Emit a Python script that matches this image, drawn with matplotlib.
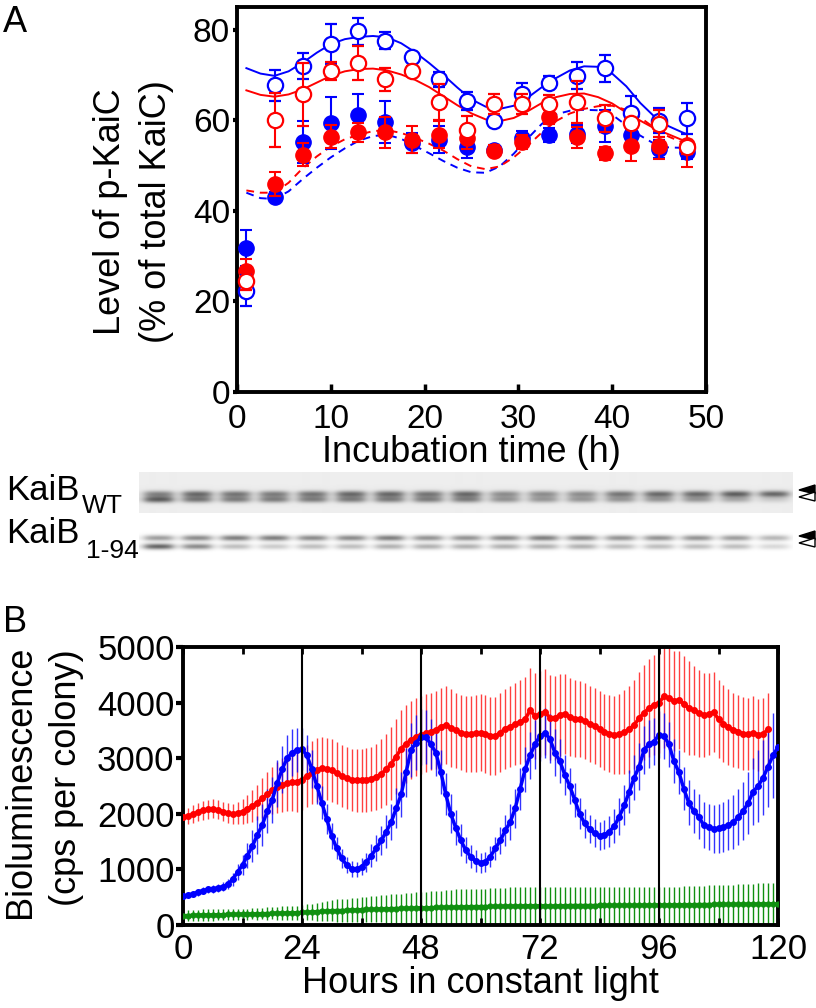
import numpy as np
import matplotlib
matplotlib.use("Agg")
import matplotlib.pyplot as plt
from matplotlib.patches import Polygon

plt.rcParams['font.family'] = ['Liberation Sans', 'DejaVu Sans']

# ---------------- panel A data (p-KaiC, %) ----------------
a_time = [1.0, 4.1, 7.0, 10.0, 12.9, 15.8, 18.7, 21.5, 24.5, 27.4, 30.4, 33.3, 36.2, 39.2, 42.0, 45.0, 48.0]

wt_open = [22.4, 67.7, 71.9, 76.8, 79.6, 77.6, 73.9, 69.0, 64.2, 59.8, 65.7, 68.3, 69.8, 71.5, 61.6, 59.9, 60.4]
wt_open_err = [3.4, 3.4, 2.9, 4.4, 3.0, 1.8, 1.0, 1.7, 2.0, 1.0, 2.6, 1.5, 3.0, 3.0, 3.8, 2.8, 3.5]
wt_fill = [31.8, 43.1, 55.2, 59.4, 61.1, 59.6, 55.0, 55.7, 54.2, 53.5, 56.1, 56.8, 57.0, 58.7, 56.8, 53.7, 53.0]
wt_fill_err = [4.0, 1.0, 4.6, 5.7, 4.6, 4.7, 2.2, 3.0, 2.6, 1.0, 1.5, 1.5, 2.0, 3.5, 2.0, 2.0, 1.5]

m94_open = [24.6, 60.1, 65.7, 70.9, 72.6, 69.0, 70.9, 64.0, 57.9, 63.5, 63.5, 63.5, 64.1, 60.4, 59.4, 59.2, 54.1]
m94_open_err = [2.0, 6.0, 7.0, 2.0, 3.7, 2.6, 1.0, 4.0, 3.0, 2.2, 2.2, 2.0, 4.6, 3.0, 1.0, 3.0, 1.5]
m94_fill = [26.8, 45.9, 52.4, 56.4, 57.3, 57.3, 55.7, 56.8, 56.1, 53.3, 55.2, 60.7, 56.2, 52.7, 54.4, 54.4, 54.6]
m94_fill_err = [2.5, 2.6, 2.6, 2.6, 2.0, 3.5, 3.0, 3.0, 2.5, 1.3, 1.5, 1.5, 2.4, 1.5, 3.5, 3.0, 5.0]

fit_time = [1.0, 2.5, 4, 5.5, 7, 8.5, 10, 11.5, 13, 14.5, 16, 17.5, 19, 20.5, 22, 23.5, 25,
            26.5, 28, 29.5, 31, 32.5, 34, 35.5, 37, 38.5, 40, 41.5, 43, 44.5, 46, 47.5, 48.0]
wt_solid = [71.5, 70.3, 69.8, 70.8, 72.7, 74.9, 76.8, 77.9, 78.4, 78.6, 78.3, 77.0, 75.0, 72.6, 70.0, 67.2, 64.6,
            63.0, 62.5, 63.2, 65.0, 67.3, 69.3, 71.0, 71.9, 71.8, 70.3, 67.5, 63.8, 60.8, 58.7, 57.3, 56.9]
m94_solid = [66.6, 65.6, 65.2, 65.7, 66.8, 68.3, 69.8, 70.8, 71.3, 71.4, 71.0, 70.1, 68.9, 67.3, 65.3, 63.3, 61.5,
             60.2, 59.8, 60.5, 62.0, 63.8, 65.1, 65.8, 65.9, 65.1, 63.7, 61.7, 59.9, 58.2, 56.9, 55.6, 55.2]
wt_dash = [44.0, 42.8, 42.6, 44.3, 47.0, 49.5, 51.8, 53.8, 55.5, 56.5, 56.8, 55.9, 54.3, 52.7, 51.0, 49.5, 48.5,
           48.4, 49.8, 52.6, 56.0, 59.2, 61.3, 62.1, 62.3, 62.2, 61.2, 58.9, 56.6, 54.8, 54.0, 53.9, 53.9]
m94_dash = [44.5, 44.0, 44.0, 46.2, 49.4, 52.0, 54.2, 55.8, 56.8, 57.6, 57.8, 57.2, 56.1, 54.8, 53.3, 51.4, 49.8,
            49.2, 49.8, 51.8, 54.4, 57.3, 59.8, 61.5, 62.5, 63.1, 63.2, 62.3, 60.6, 58.3, 56.4, 55.1, 54.8]

# ---------------- blot lane darkness (17 lanes) ----------------
wt_band_up = [0.40, 0.50, 0.45, 0.42, 0.45, 0.50, 0.50, 0.45, 0.50, 0.36, 0.36, 0.36, 0.45, 0.50, 0.50, 0.55, 0.52]
wt_band_lo = [0.55, 0.45, 0.42, 0.42, 0.42, 0.42, 0.42, 0.42, 0.42, 0.34, 0.32, 0.32, 0.32, 0.32, 0.32, 0.25, 0.12]
kb_band_up = [0.38, 0.45, 0.50, 0.50, 0.45, 0.45, 0.50, 0.42, 0.42, 0.45, 0.50, 0.45, 0.42, 0.42, 0.42, 0.38, 0.28]
kb_band_lo = [0.60, 0.45, 0.25, 0.20, 0.25, 0.25, 0.30, 0.30, 0.30, 0.30, 0.30, 0.30, 0.25, 0.25, 0.25, 0.25, 0.15]

# ---------------- panel B data (hourly) ----------------
hours_blue = list(range(0, 121))
blue = [520, 540, 560, 590, 620, 640, 650, 670, 690, 730,
        820, 950, 1080, 1250, 1420, 1620, 1800, 2050, 2250, 2550,
        2800, 3000, 3100, 3150, 3160, 3050, 2800, 2500, 2200, 1900,
        1600, 1380, 1200, 1080, 1010, 1000, 1050, 1130, 1250, 1380,
        1520, 1680, 1850, 2100, 2350, 2750, 3150, 3280, 3380, 3380,
        3250, 3100, 2750, 2350, 2000, 1750, 1530, 1350, 1230, 1150,
        1120, 1140, 1230, 1380, 1520, 1700, 1850, 2100, 2450, 2800,
        3050, 3250, 3400, 3450, 3350, 3100, 2950, 2700, 2500, 2250,
        2000, 1830, 1720, 1650, 1600, 1620, 1680, 1780, 1950, 2150,
        2400, 2650, 2850, 3150, 3250, 3300, 3420, 3400, 3250, 2950,
        2750, 2450, 2200, 2050, 1950, 1800, 1760, 1730, 1740, 1760,
        1800, 1850, 1940, 2050, 2200, 2400, 2500, 2650, 2850, 3050, 3200]
blue_err = [60, 60, 60, 60, 60, 60, 70, 70, 80, 90,
            110, 140, 180, 230, 290, 340, 380, 400, 420, 420,
            420, 420, 420, 400, 380, 360, 340, 320, 300, 270,
            240, 200, 170, 150, 140, 140, 150, 170, 200, 230,
            260, 290, 320, 360, 400, 440, 480, 500, 500, 480,
            450, 420, 400, 380, 350, 320, 280, 240, 210, 190,
            180, 180, 190, 210, 240, 280, 320, 350, 380, 400,
            420, 440, 450, 450, 440, 420, 390, 360, 330, 300,
            280, 260, 250, 250, 250, 260, 280, 300, 330, 360,
            380, 400, 420, 430, 430, 430, 420, 410, 400, 390,
            390, 390, 400, 400, 410, 420, 420, 430, 440, 450,
            460, 480, 500, 530, 560, 600, 640, 680, 720, 760, 800]

hours_red = list(range(0, 119))
red = [1950, 1960, 1990, 2030, 2060, 2080, 2090, 2070, 2040, 2010,
       2000, 2010, 2040, 2090, 2140, 2200, 2280, 2350, 2420, 2480,
       2520, 2550, 2570, 2580, 2610, 2680, 2740, 2790, 2820, 2810,
       2780, 2730, 2680, 2640, 2610, 2600, 2600, 2610, 2630, 2660,
       2720, 2800, 2900, 3030, 3170, 3260, 3330, 3380, 3420, 3450,
       3480, 3510, 3570, 3590, 3550, 3500, 3460, 3440, 3440, 3450,
       3460, 3440, 3400, 3400, 3460, 3530, 3570, 3610, 3650, 3700,
       3860, 3760, 3790, 3830, 3730, 3720, 3780, 3800, 3740, 3710,
       3700, 3670, 3620, 3580, 3530, 3470, 3440, 3420, 3430, 3470,
       3520, 3600, 3720, 3820, 3900, 3960, 4000, 4110, 4080, 4030,
       4050, 3980, 3900, 3860, 3810, 3780, 3790, 3830, 3700, 3620,
       3560, 3510, 3480, 3440, 3430, 3460, 3420, 3440, 3520]
red_err = [150, 150, 160, 160, 170, 170, 170, 170, 170, 180,
           180, 200, 220, 250, 280, 320, 360, 400, 430, 460,
           480, 500, 520, 540, 550, 560, 570, 570, 570, 560,
           560, 560, 560, 560, 560, 560, 560, 570, 580, 600,
           620, 640, 660, 680, 700, 700, 700, 700, 700, 700,
           700, 700, 700, 700, 700, 680, 680, 680, 680, 690,
           690, 700, 700, 700, 710, 720, 730, 740, 750, 760,
           760, 770, 770, 770, 760, 750, 740, 720, 700, 690,
           680, 680, 680, 680, 680, 680, 690, 700, 720, 750,
           780, 800, 830, 860, 880, 900, 910, 920, 920, 900,
           880, 860, 840, 800, 780, 760, 740, 720, 700, 690,
           680, 670, 660, 660, 650, 650, 650, 650, 650]

hours_green = list(range(0, 121))
green = [170, 170, 175, 175, 180, 180, 180, 185, 185, 190,
         190, 190, 195, 195, 200, 200, 205, 205, 210, 210,
         215, 215, 220, 220, 225, 230, 235, 240, 245, 250,
         255, 260, 260, 265, 270, 270, 275, 280, 280, 285,
         290, 290, 295, 295, 300, 300, 305, 305, 310, 310,
         310, 315, 315, 320, 320, 320, 325, 325, 330, 330,
         330, 330, 335, 335, 335, 340, 340, 340, 340, 345,
         345, 345, 345, 345, 340, 340, 345, 345, 350, 350,
         350, 350, 350, 350, 352, 352, 352, 355, 355, 355,
         355, 355, 358, 358, 358, 360, 360, 360, 362, 362,
         362, 365, 365, 365, 368, 368, 368, 370, 370, 370,
         372, 372, 372, 375, 375, 375, 378, 378, 380, 380, 380]
green_err = [100, 100, 100, 100, 100, 100, 100, 100, 100, 100,
             100, 100, 100, 100, 100, 105, 105, 110, 110, 115,
             120, 120, 125, 130, 135, 140, 150, 160, 170, 180,
             190, 200, 205, 210, 215, 220, 225, 230, 235, 240,
             245, 250, 255, 260, 265, 270, 275, 280, 285, 290,
             295, 300, 305, 310, 315, 320, 320, 320, 320, 325,
             325, 325, 330, 330, 330, 330, 335, 335, 335, 335,
             340, 340, 340, 340, 335, 335, 330, 330, 330, 330,
             325, 325, 325, 325, 325, 325, 325, 325, 320, 320,
             320, 320, 320, 320, 320, 320, 320, 320, 325, 325,
             330, 330, 335, 335, 340, 340, 345, 345, 350, 350,
             355, 355, 360, 360, 365, 365, 370, 370, 375, 375, 380]

W, H = 816, 1008
fig = plt.figure(figsize=(W / 100, H / 100), dpi=100)

# overlay in pixel coordinates for labels and markers outside the axes
ov = fig.add_axes([0, 0, 1, 1], zorder=0)
ov.set_xlim(0, W)
ov.set_ylim(H, 0)
ov.axis('off')


def px_axes(l, t, r, b, **kw):
    return fig.add_axes([l / W, 1 - b / H, (r - l) / W, (b - t) / H], **kw)


BLUE = '#0000ff'
RED = '#ff0000'
GREEN = '#109010'

# ================= panel A =================
axA = px_axes(237, 7, 706, 392, zorder=2)
axA.plot(fit_time, wt_solid, color=BLUE, lw=1.4, zorder=1)
axA.plot(fit_time, m94_solid, color=RED, lw=1.4, zorder=1)
axA.plot(fit_time, wt_dash, color=BLUE, lw=1.4, ls=(0, (4, 3)), zorder=1)
axA.plot(fit_time, m94_dash, color=RED, lw=1.4, ls=(0, (4, 3)), zorder=1)

ekw = dict(elinewidth=1.5, capsize=4, capthick=1.5, ms=11)
axA.errorbar(a_time, wt_fill, yerr=wt_fill_err, fmt='o', color=BLUE, zorder=3, **ekw)
axA.errorbar(a_time, m94_fill, yerr=m94_fill_err, fmt='o', color=RED, zorder=4, **ekw)
axA.errorbar(a_time, wt_open, yerr=wt_open_err, fmt='o', color=BLUE, mfc='white', mew=1.6, zorder=5, **ekw)
axA.errorbar(a_time, m94_open, yerr=m94_open_err, fmt='o', color=RED, mfc='white', mew=1.6, zorder=6, **ekw)

axA.set_xlim(0, 50)
axA.set_ylim(0, 85)
axA.set_xticks([0, 10, 20, 30, 40, 50])
axA.set_yticks([0, 20, 40, 60, 80])
axA.tick_params(axis='x', direction='in', length=6, width=2.5, labelsize=24, pad=9)
axA.tick_params(axis='y', direction='out', length=3, width=3, labelsize=24, pad=2)
for s in axA.spines.values():
    s.set_linewidth(2.8)
axA.set_xlabel('Incubation time (h)', fontsize=26, labelpad=0)
ov.text(110, 212, 'Level of p-KaiC', rotation=90, fontsize=26, ha='center', va='center')
ov.text(157, 212, '(% of total KaiC)', rotation=90, fontsize=26, ha='center', va='center')
ov.text(3, 23, 'A', fontsize=26, ha='left', va='center')

# ================= blots =================
def blot_image(n_rows, rows_c, up, lo, bg, sig):
    ncol = 653
    img = np.full((n_rows, ncol), bg)
    yy = np.arange(n_rows)[:, None]
    xx = np.arange(ncol)[None, :]
    lane_w = ncol / len(up)
    for i in range(len(up)):
        cx = (i + 0.5) * lane_w
        xprof = 1 / (1 + np.exp((np.abs(xx - cx) - 14) / 3.0))
        yprof = (up[i] * np.exp(-((yy - rows_c[0]) / sig) ** 2)
                 + lo[i] * np.exp(-((yy - rows_c[1]) / sig) ** 2))
        img = img - xprof * yprof
    return np.clip(img, 0, 1)


axW = px_axes(139, 472, 792, 513, zorder=2)
axW.imshow(blot_image(41, (21.5, 27), wt_band_up, wt_band_lo, 0.93, 3.3), cmap='gray', vmin=0, vmax=1,
           aspect='auto', interpolation='bilinear')
axW.axis('off')
axK = px_axes(139, 520, 792, 561, zorder=2)
axK.imshow(blot_image(41, (17.5, 26), kb_band_up, kb_band_lo, 1.0, 3.0), cmap='gray', vmin=0, vmax=1,
           aspect='auto', interpolation='bilinear')
axK.axis('off')

ov.text(6, 500, 'KaiB', fontsize=25, ha='left', va='baseline')
ov.text(82, 513, 'WT', fontsize=19, ha='left', va='baseline')
ov.text(6, 543, 'KaiB', fontsize=25, ha='left', va='baseline')
ov.text(86, 558, '1-94', fontsize=19, ha='left', va='baseline')
for tip_y, filled in [(490, True), (497, False), (536, True), (543, False)]:
    tri = Polygon([(799, tip_y), (815, tip_y - 5), (815, tip_y + 4)], closed=True,
                  facecolor='black' if filled else 'white', edgecolor='black', lw=1)
    ov.add_patch(tri)

# ================= panel B =================
axB = px_axes(183, 647, 778, 925, zorder=2)
axB.errorbar(hours_green, green, yerr=green_err, fmt='none', ecolor=GREEN, elinewidth=1, zorder=1)
axB.errorbar(hours_red, red, yerr=red_err, fmt='none', ecolor=RED, elinewidth=1, alpha=0.75, zorder=2)
axB.errorbar(hours_blue, blue, yerr=blue_err, fmt='none', ecolor=BLUE, elinewidth=1, alpha=0.8, zorder=2)
axB.plot(hours_green, green, '-o', color=GREEN, lw=2.5, ms=3.5, zorder=3)
axB.plot(hours_red, red, '-o', color=RED, lw=2.5, ms=4, zorder=4)
axB.plot(hours_blue, blue, '-o', color=BLUE, lw=2.5, ms=4, zorder=5)
for h in [24, 48, 72, 96]:
    axB.axvline(h, color='black', lw=1.5, zorder=6)

axB.set_xlim(0, 120)
axB.set_ylim(0, 5000)
axB.set_xticks([0, 24, 48, 72, 96, 120])
axB.set_xticks([12, 36, 60, 84, 108], minor=True)
axB.set_yticks([0, 1000, 2000, 3000, 4000, 5000])
axB.tick_params(axis='x', which='both', direction='in', top=True, length=5, width=2, labelsize=25, pad=6)
axB.tick_params(axis='y', direction='out', length=5, width=3, labelsize=25, pad=1)
for s in axB.spines.values():
    s.set_linewidth(2.8)
axB.set_xlabel('Hours in constant light', fontsize=26, labelpad=0)
ov.text(21, 782, 'Bioluminescence', rotation=90, fontsize=26, ha='center', va='center')
ov.text(66, 778, '(cps per colony)', rotation=90, fontsize=26, ha='center', va='center')
ov.text(3, 622, 'B', fontsize=26, ha='left', va='center')

fig.savefig('out.png', dpi=100)
